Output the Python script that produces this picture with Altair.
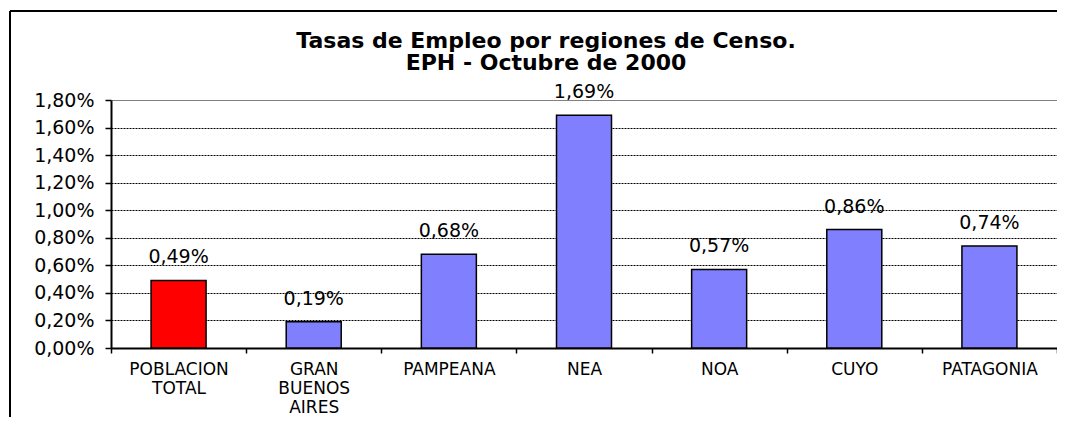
import altair as alt
import pandas as pd

regiones = ["POBLACION TOTAL", "GRAN BUENOS AIRES", "PAMPEANA", "NEA", "NOA", "CUYO", "PATAGONIA"]
tasas = [0.49, 0.19, 0.68, 1.69, 0.57, 0.86, 0.74]
colores = ["#FF0000", "#8080FF", "#8080FF", "#8080FF", "#8080FF", "#8080FF", "#8080FF"]
y_ticks = [0.0, 0.2, 0.4, 0.6, 0.8, 1.0, 1.2, 1.4, 1.6, 1.8]
titulo = ["Tasas de Empleo por regiones de Censo.", "EPH - Octubre de 2000"]

df = pd.DataFrame({"region": regiones, "tasa": tasas, "color": colores})
df["etiqueta"] = [f"{v:.2f}".replace(".", ",") + "%" for v in tasas]

FONT = "DejaVu Sans"

x_axis = alt.Axis(
    labelAngle=0,
    labelExpr="split(datum.label, ' ')",
    labelLineHeight=19,
    labelFont=FONT,
    labelFontSize=17,
    labelColor="black",
    labelPadding=8,
    tickBand="extent",
    tickSize=5,
    tickColor="black",
    tickWidth=1.5,
    domainColor="black",
    domainWidth=2,
    grid=False,
)
y_axis = alt.Axis(
    values=y_ticks,
    labelOverlap=False,
    labelExpr="replace(format(datum.value, '.2f'), '.', ',') + '%'",
    labelFont=FONT,
    labelFontSize=19,
    labelColor="black",
    labelPadding=11,
    tickSize=6,
    tickColor="black",
    tickWidth=1.5,
    domainColor="black",
    domainWidth=2,
    grid=True,
    gridColor={"condition": {"test": "datum.value >= 1.79", "value": "#808080"}, "value": "black"},
    gridDash={"condition": {"test": "datum.value >= 1.79", "value": []}, "value": [2, 1]},
    gridWidth=1,
)
x_scale = alt.Scale(paddingInner=0, paddingOuter=0)
y_scale = alt.Scale(domain=[0, 1.8], nice=False)

x_enc = alt.X("region:N", sort=regiones, title=None, scale=x_scale, axis=x_axis)
y_enc = alt.Y("tasa:Q", scale=y_scale, title=None, axis=y_axis)

bars = alt.Chart(df).mark_bar(size=55, stroke="black", strokeWidth=1.5).encode(
    x=x_enc,
    y=y_enc,
    color=alt.Color("color:N", scale=None, legend=None),
)

labels = alt.Chart(df).mark_text(
    font=FONT, fontSize=19, color="black", baseline="alphabetic", dy=-17
).encode(
    x=x_enc,
    y=y_enc,
    text="etiqueta:N",
)

frame_src = alt.Data(values=[{"k": 1}])
frame_left = alt.Chart(frame_src).mark_rule(color="black", strokeWidth=2).encode(
    x=alt.value(-101), y=alt.value(-89), y2=alt.value(400)
)
frame_top = alt.Chart(frame_src).mark_rule(color="black", strokeWidth=2).encode(
    x=alt.value(-101), x2=alt.value(1100), y=alt.value(-89)
)

chart = (
    alt.layer(bars, labels, frame_left, frame_top)
    .properties(
        width=946,
        height=248,
        autosize=alt.AutoSizeParams(type="none"),
        padding={"left": 103, "top": 92, "right": 0, "bottom": 69},
        title=alt.TitleParams(
            text=titulo,
            font=FONT,
            fontSize=22,
            fontWeight="bold",
            color="black",
            lineHeight=22,
            anchor="middle",
            dx=-38,
            offset=-87,
            baseline="bottom",
        ),
    )
    .configure_view(stroke="#808080", strokeWidth=2)
    .configure(background="white")
)

chart.save("out.html", embed_options={"renderer": "svg", "actions": False})
